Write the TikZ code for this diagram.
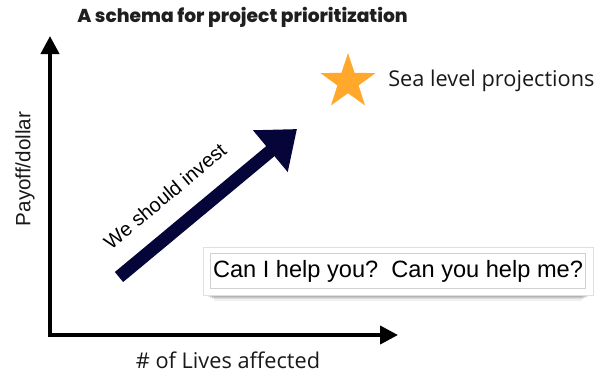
\documentclass[tikz,border=0pt]{standalone}
\usepackage{fontspec}
\setmainfont{Liberation Sans}
\newfontfamily\titlefont{Poppins}[BoldFont={* ExtraBold}]
\newfontfamily\labelfont{Open Sans}
\usetikzlibrary{arrows.meta}
\definecolor{navy}{HTML}{05053A}
\definecolor{staror}{HTML}{FFA82B}
\tikzset{
  axisline/.style={line width=3pt, line join=miter, {Triangle[length=13.5pt,width=13.5pt]}-{Triangle[length=13.5pt,width=13.5pt]}},
  bigarrow/.style={navy, line width=9.75pt, -{Triangle[length=26pt,width=39pt]}},
  axislabel/.style={font=\labelfont\fontsize{16.3pt}{19pt}\selectfont, text=black!90},
  paneltext/.style={font=\fontsize{17.7pt}{20pt}\selectfont, text=black},
}
\begin{document}
\begin{tikzpicture}[x=0.75pt,y=-0.75pt]
\useasboundingbox (0,0) rectangle (598,375);

% title
\node[font=\titlefont\bfseries\fontsize{14pt}{16pt}\selectfont, text=black!88, anchor=west, inner sep=0pt] (title) at (77,17) {A schema for project prioritization};

% axes
\coordinate (ytop) at (50,36);
\coordinate (origin) at (50,335);
\coordinate (xend) at (398,335);
\draw[axisline] (ytop) -- (origin) -- (xend);
\node[font=\fontsize{15.5pt}{18pt}\selectfont, text=black!90, rotate=90] (ylab) at (25,169) {Payoff/dollar};
\node[axislabel] (xlab) at (228,360) {\# of Lives affected};

% investment arrow
\coordinate (tail) at (119,277);
\coordinate (tip) at (297,129);
\draw[bigarrow] (tail) -- (tip);
\node[font=\fontsize{15pt}{17pt}\selectfont, rotate=39.8, inner sep=0pt] (invest) at (165,196) {We should invest};

% star and its label
\fill[staror] (348,82) +(90:-29) \foreach \k in {1,...,9} {-- +({90+36*\k}:{ifthenelse(mod(\k,2)==1,-11.2,-29)})} -- cycle;
\node[axislabel, anchor=west, inner sep=0pt] (sea) at (388,81) {Sea level projections};

% panel with drop shadow
\foreach \o/\a in {0/0.10,2/0.10,4/0.08,6/0.06}{
  \fill[black, opacity=\a] (208+\o,288) rectangle (588-\o,297+\o*0.6);
}
\draw[black!12, fill=white] (203,247) rectangle (593,295);
\node[draw=black!18, line width=0.5pt, minimum width=281pt, minimum height=26pt, inner sep=0pt] (panel) at (398,270.5) {};
\node[paneltext] (ask) at (398,271) {Can I help you?\ \ Can you help me?};
\end{tikzpicture}
\end{document}
